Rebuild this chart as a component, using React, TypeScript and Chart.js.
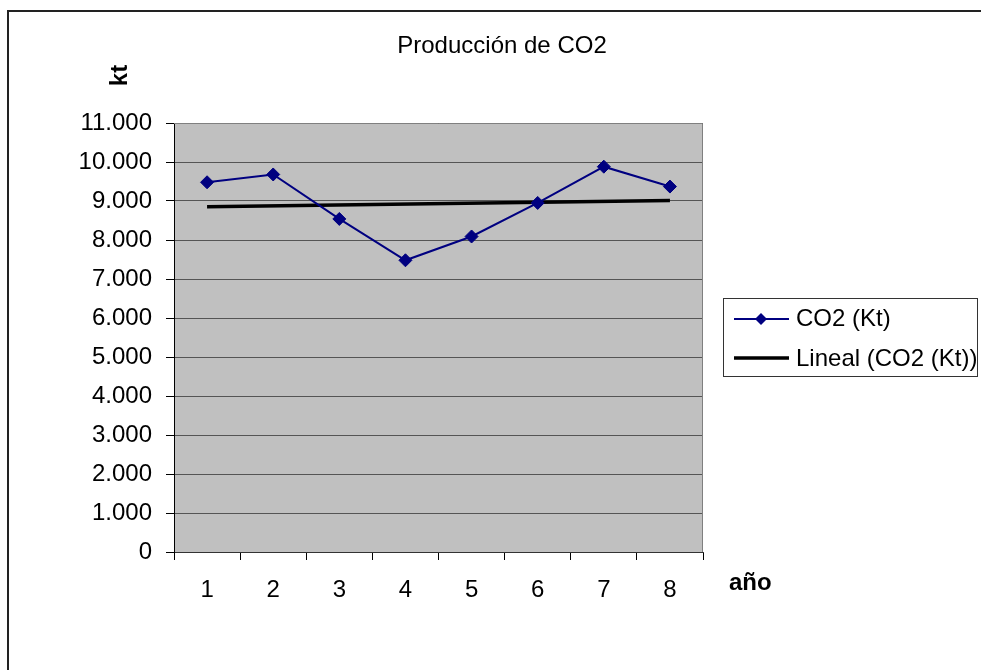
import React, { useEffect, useRef } from 'react';
import { Chart, registerables } from 'chart.js';

Chart.register(...registerables);

const years = ['1', '2', '3', '4', '5', '6', '7', '8'];
const co2Kt = [9480, 9680, 8540, 7480, 8090, 8950, 9880, 9370];
// linear trend line (Excel "Lineal"), end values
const trendKt: (number | null)[] = [8850, null, null, null, null, null, null, 9015];
const yTickLabels = ['0', '1.000', '2.000', '3.000', '4.000', '5.000', '6.000', '7.000', '8.000', '9.000', '10.000', '11.000'];
const titleText = 'Producción de CO2';
const yAxisTitle = 'kt';
const xAxisTitle = 'año';
const seriesName = 'CO2 (Kt)';
const trendName = 'Lineal (CO2 (Kt))';

const FONT = "'Liberation Sans', Arial, sans-serif";
const W = 981;
const H = 670;

const decor = {
  id: 'decor',
  beforeDraw(chart: any) {
    const { ctx, chartArea: a } = chart;
    ctx.save();
    ctx.fillStyle = '#ffffff';
    ctx.fillRect(0, 0, chart.width, chart.height);
    ctx.fillStyle = '#C0C0C0';
    ctx.fillRect(a.left, a.top, a.right - a.left, a.bottom - a.top);
    // outer chart border
    ctx.strokeStyle = '#222222';
    ctx.lineWidth = 2;
    ctx.beginPath();
    ctx.moveTo(8, chart.height + 2);
    ctx.lineTo(8, 11);
    ctx.lineTo(chart.width + 2, 11);
    ctx.stroke();
    ctx.restore();
  },
  beforeDatasetsDraw(chart: any) {
    const { ctx, chartArea: a } = chart;
    ctx.save();
    ctx.strokeStyle = '#808080';
    ctx.lineWidth = 1;
    ctx.beginPath();
    ctx.moveTo(a.left, Math.round(a.top) + 0.5);
    ctx.lineTo(Math.round(a.right) - 0.5, Math.round(a.top) + 0.5);
    ctx.lineTo(Math.round(a.right) - 0.5, a.bottom);
    ctx.stroke();
    ctx.restore();
  },
  afterDraw(chart: any) {
    const { ctx } = chart;
    ctx.save();
    ctx.fillStyle = '#000';
    ctx.textBaseline = 'alphabetic';
    // title
    ctx.font = `24px ${FONT}`;
    ctx.textAlign = 'center';
    ctx.fillText(titleText, 502, 53);
    // y axis title (rotated)
    ctx.save();
    ctx.font = `bold 24px ${FONT}`;
    ctx.translate(127, 75.5);
    ctx.rotate(-Math.PI / 2);
    ctx.textAlign = 'center';
    ctx.fillText(yAxisTitle, 0, 0);
    ctx.restore();
    // x axis title
    ctx.font = `bold 24px ${FONT}`;
    ctx.textAlign = 'left';
    ctx.fillText(xAxisTitle, 729, 590);

    // legend
    ctx.strokeStyle = '#333333';
    ctx.lineWidth = 1;
    ctx.strokeRect(723.5, 298.5, 254, 78);
    // item 1
    ctx.strokeStyle = '#000080';
    ctx.lineWidth = 2;
    ctx.beginPath();
    ctx.moveTo(734, 319);
    ctx.lineTo(789, 319);
    ctx.stroke();
    ctx.fillStyle = '#000080';
    ctx.beginPath();
    ctx.moveTo(761 - 6, 319);
    ctx.lineTo(761, 319 - 6);
    ctx.lineTo(761 + 6, 319);
    ctx.lineTo(761, 319 + 6);
    ctx.closePath();
    ctx.fill();
    // item 2
    ctx.strokeStyle = '#000';
    ctx.lineWidth = 3.5;
    ctx.beginPath();
    ctx.moveTo(734, 358);
    ctx.lineTo(789, 358);
    ctx.stroke();
    ctx.fillStyle = '#000';
    ctx.font = `24px ${FONT}`;
    ctx.textAlign = 'left';
    ctx.fillText(seriesName, 796, 326);
    ctx.fillText(trendName, 796, 366);
    ctx.restore();
  },
};

export default function App() {
  const ref = useRef<HTMLCanvasElement | null>(null);
  useEffect(() => {
    if (!ref.current) return;
    const chart = new Chart(ref.current, {
      type: 'line',
      data: {
        labels: years,
        datasets: [
          {
            label: seriesName,
            data: co2Kt,
            borderColor: '#000080',
            backgroundColor: '#000080',
            borderWidth: 2,
            pointStyle: 'rectRot',
            pointRadius: 6.5,
            pointBackgroundColor: '#000080',
            pointBorderColor: '#000080',
            pointBorderWidth: 1,
            tension: 0,
            fill: false,
          },
          {
            label: trendName,
            data: trendKt,
            borderColor: '#000000',
            backgroundColor: '#000000',
            borderWidth: 3.5,
            pointRadius: 0,
            spanGaps: true,
            tension: 0,
            fill: false,
          },
        ],
      },
      options: {
        responsive: false,
        maintainAspectRatio: false,
        devicePixelRatio: 1,
        animation: false,
        events: [],
        layout: { padding: { top: 123, right: W - 703, left: 0, bottom: 0 } },
        plugins: {
          legend: { display: false },
          title: { display: false },
          tooltip: { enabled: false },
        },
        scales: {
          x: {
            type: 'category',
            offset: true,
            grid: { drawOnChartArea: false, drawTicks: true, tickLength: 8, tickColor: '#000', offset: true },
            border: { color: '#333333', width: 1 },
            ticks: { font: { family: FONT, size: 24 }, color: '#000', padding: 16, maxRotation: 0, autoSkip: false },
            afterFit(s: any) { s.height = H - 552; },
          },
          y: {
            min: 0,
            max: 11000,
            grid: { color: '#555555', lineWidth: 1, tickLength: 8, tickColor: '#000' },
            border: { color: '#000', width: 1 },
            ticks: {
              stepSize: 1000,
              autoSkip: false,
              font: { family: FONT, size: 24 },
              color: '#000',
              padding: 14,
              callback: (_v: any, i: number) => yTickLabels[i],
            },
            afterFit(s: any) { s.width = 174; },
          },
        },
      },
      plugins: [decor],
    } as any);
    return () => chart.destroy();
  }, []);
  return (
    <div style={{ position: 'absolute', left: 0, top: 0, width: W, height: H }}>
      <canvas ref={ref} width={W} height={H} style={{ display: 'block', width: W, height: H }} />
    </div>
  );
}
